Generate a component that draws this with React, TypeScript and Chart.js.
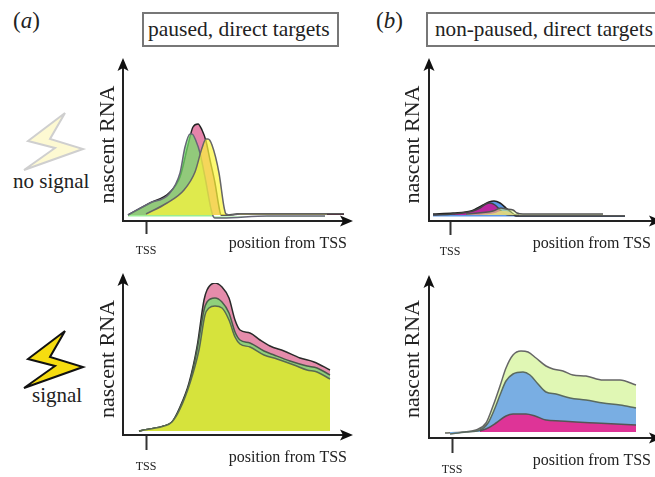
import React, { useEffect, useRef } from "react";
import { Chart, registerables } from "chart.js";

Chart.register(...registerables);

const FONT = '"Liberation Serif", "Times New Roman", serif';

// Panel (a), no signal
const aTopPinkX = [5, 27, 46, 57, 65, 70, 75, 79, 83, 87, 92, 96, 98, 105, 114, 177, 221];
const aTopPinkY = [6, 18, 28, 44, 76, 94, 97, 91, 80, 61, 38, 14, 6, 6, 7, 7, 7];
const aTopGreenX = [5, 27, 46, 57, 62, 67, 69, 73, 77, 82, 89, 92, 99, 144, 202];
const aTopGreenY = [6, 18, 27, 48, 74, 87, 87, 80, 68, 44, 8, 3, 3, 5, 5];
const aTopYellowX = [23, 44, 61, 72, 79, 83, 85, 89, 96, 101, 103, 108, 117, 204];
const aTopYellowY = [7, 18, 31, 49, 73, 82, 82, 76, 48, 14, 7, 6, 7, 7];

// Panel (a), signal
const aBotPinkX = [16, 27, 41, 49, 57, 66, 74, 81, 84, 92, 99, 106, 112, 117, 127, 137, 147, 161, 177, 191, 207];
const aBotPinkY = [4, 6, 9, 13, 28, 52, 88, 135, 145, 152, 148, 137, 115, 105, 102, 95, 89, 84, 77, 73, 65];
const aBotGreenX = [16, 27, 41, 49, 57, 66, 74, 81, 84, 92, 99, 106, 112, 117, 127, 141, 151, 167, 184, 194, 207];
const aBotGreenY = [4, 6, 9, 13, 27, 50, 85, 125, 133, 137, 133, 122, 103, 95, 92, 84, 80, 74, 69, 67, 60];
const aBotYellowX = [16, 27, 41, 49, 57, 67, 76, 82, 86, 92, 99, 106, 112, 117, 127, 141, 154, 171, 184, 194, 207];
const aBotYellowY = [4, 6, 9, 13, 26, 52, 85, 120, 127, 129, 127, 115, 98, 91, 88, 80, 76, 70, 65, 63, 56];

// Panel (b), no signal
const bTopBlueX = [4, 24, 42, 54, 60, 65, 71, 77, 82, 87, 100, 196];
const bTopBlueY = [7, 8, 10, 16, 19, 20, 18, 13, 9, 5, 5, 5];
const bTopMagentaX = [4, 24, 44, 51, 57, 61, 66, 71, 76, 81, 90];
const bTopMagentaY = [6, 7, 10, 13, 17, 18, 16, 11, 7, 6, 6];
const bTopTanX = [50, 66, 72, 77, 82, 86];
const bTopTanY = [6, 8, 10, 10, 8, 6];
const bTopGreenX = [37, 64, 72, 77, 84, 88, 94, 174];
const bTopGreenY = [7, 10, 13, 12, 11, 8, 7, 7];

// Panel (b), signal
const bBotGreenX = [16, 34, 47, 57, 64, 71, 77, 84, 92, 99, 107, 117, 124, 134, 144, 157, 174, 191, 207];
const bBotGreenY = [5, 6, 8, 15, 32, 52, 70, 83, 87, 86, 80, 72, 69, 67, 63, 62, 58, 58, 53];
const bBotBlueX = [21, 37, 51, 59, 66, 71, 77, 84, 94, 101, 109, 117, 127, 141, 157, 174, 191, 207];
const bBotBlueY = [4, 6, 8, 15, 30, 43, 57, 64, 66, 63, 54, 46, 44, 40, 38, 35, 33, 30];
const bBotMagentaX = [51, 59, 67, 77, 84, 97, 106, 117, 131, 147, 167, 187, 207];
const bBotMagentaY = [7, 10, 15, 22, 24, 24, 22, 18, 17, 16, 15, 14, 13];

const xLabel = "position from TSS";
const yLabel = "nascent RNA";
const tickLabel = "TSS";

const zip = (xs: number[], ys: number[]) => xs.map((x, i) => ({ x, y: ys[i] }));

type Layer = { x: number[]; y: number[]; fill: string; line: string; base?: number };
type Panel = {
  left: number;
  top: number;
  width: number;
  height: number;
  yAxisWidth: number;
  plotTop: number;
  axisY: number;
  plotRight: number;
  arrowTop: number;
  arrowRight: number;
  tss: number;
  tickLength: number;
  base: number;
  layers: Layer[];
};

const panels: Panel[] = [
  {
    left: 95, top: 50, width: 265, height: 217, yAxisWidth: 28, plotTop: 68, axisY: 221, plotRight: 347,
    arrowTop: 58, arrowRight: 353, tss: 23, tickLength: 13, base: 6,
    layers: [
      { x: aTopPinkX, y: aTopPinkY, fill: "rgba(228,125,165,0.95)", line: "#222" },
      { x: aTopGreenX, y: aTopGreenY, fill: "rgba(115,228,105,0.72)", line: "#667", base: 4.5 },
      { x: aTopYellowX, y: aTopYellowY, fill: "rgba(252,247,60,0.72)", line: "#666" },
    ],
  },
  {
    left: 95, top: 265, width: 265, height: 220, yAxisWidth: 28, plotTop: 283, axisY: 435, plotRight: 347,
    arrowTop: 273, arrowRight: 353, tss: 23, tickLength: 15, base: 4,
    layers: [
      { x: aBotPinkX, y: aBotPinkY, fill: "#e58cab", line: "#2a2a2a" },
      { x: aBotGreenX, y: aBotGreenY, fill: "#8fd07c", line: "#4a5a4a" },
      { x: aBotYellowX, y: aBotYellowY, fill: "#d6e33c", line: "#5a6a50" },
    ],
  },
  {
    left: 400, top: 50, width: 255, height: 217, yAxisWidth: 29, plotTop: 68, axisY: 221, plotRight: 651,
    arrowTop: 58, arrowRight: 662, tss: 21, tickLength: 14, base: 6,
    layers: [
      { x: bTopBlueX, y: bTopBlueY, fill: "rgba(60,130,225,0.85)", line: "#222", base: 4.5 },
      { x: bTopMagentaX, y: bTopMagentaY, fill: "rgba(200,25,150,0.88)", line: "#444" },
      { x: bTopTanX, y: bTopTanY, fill: "rgba(235,190,130,0.9)", line: "rgba(0,0,0,0)" },
      { x: bTopGreenX, y: bTopGreenY, fill: "rgba(215,240,130,0.55)", line: "#555" },
    ],
  },
  {
    left: 400, top: 265, width: 255, height: 220, yAxisWidth: 29, plotTop: 280, axisY: 438, plotRight: 651,
    arrowTop: 275, arrowRight: 662, tss: 23, tickLength: 15, base: 6,
    layers: [
      { x: bBotGreenX, y: bBotGreenY, fill: "#e0f7b4", line: "#666" },
      { x: bBotBlueX, y: bBotBlueY, fill: "#79aee3", line: "#5a6a60" },
      { x: bBotMagentaX, y: bBotMagentaY, fill: "#de3497", line: "#555" },
    ],
  },
];

const arrowHeads = {
  id: "arrowHeads",
  afterDraw(chart: any, _a: any, opts: any) {
    const { ctx, chartArea } = chart;
    const { arrowX, arrowY } = opts;
    const x0 = chartArea.left;
    const y0 = chartArea.bottom;
    ctx.save();
    ctx.strokeStyle = "#222";
    ctx.fillStyle = "#111";
    ctx.lineWidth = 2;
    ctx.beginPath();
    ctx.moveTo(x0, chartArea.top);
    ctx.lineTo(x0, arrowY + 4);
    ctx.moveTo(chartArea.right, y0);
    ctx.lineTo(arrowX - 4, y0);
    ctx.stroke();
    ctx.beginPath();
    ctx.moveTo(x0, arrowY);
    ctx.lineTo(x0 + 5.5, arrowY + 13);
    ctx.lineTo(x0, arrowY + 10);
    ctx.lineTo(x0 - 5.5, arrowY + 13);
    ctx.closePath();
    ctx.fill();
    ctx.beginPath();
    ctx.moveTo(arrowX, y0);
    ctx.lineTo(arrowX - 13, y0 + 5.5);
    ctx.lineTo(arrowX - 10, y0);
    ctx.lineTo(arrowX - 13, y0 - 5.5);
    ctx.closePath();
    ctx.fill();
    ctx.restore();
  },
};

function PanelChart({ panel }: { panel: Panel }) {
  const ref = useRef<HTMLCanvasElement>(null);
  useEffect(() => {
    const xHeight = 46;
    const plotBottom = panel.axisY - panel.top;
    const plotLeft = panel.yAxisWidth;
    const chart = new Chart(ref.current as HTMLCanvasElement, {
      type: "line",
      data: {
        datasets: panel.layers.map((l, i) => ({
          data: zip(l.x, l.y),
          borderColor: l.line,
          backgroundColor: l.fill,
          borderWidth: 1.5,
          pointRadius: 0,
          cubicInterpolationMode: "monotone" as const,
          fill: { value: l.base ?? panel.base },
          order: panel.layers.length - i,
        })),
      },
      options: {
        animation: false,
        responsive: false,
        events: [],
        layout: {
          padding: {
            left: 0,
            top: panel.plotTop - panel.top,
            right: panel.left + panel.width - panel.plotRight,
            bottom: panel.height - plotBottom - xHeight,
          },
        },
        plugins: {
          legend: { display: false },
          tooltip: { enabled: false },
          arrowHeads: {
            arrowX: panel.arrowRight - panel.left,
            arrowY: panel.arrowTop - panel.top,
          },
        } as any,
        scales: {
          x: {
            type: "linear",
            min: 0,
            max: panel.plotRight - panel.left - plotLeft,
            afterBuildTicks: (s: any) => {
              s.ticks = [{ value: panel.tss }];
            },
            afterFit: (s: any) => {
              s.height = xHeight;
            },
            border: { display: true, color: "#222", width: 2 },
            grid: {
              display: true,
              drawOnChartArea: false,
              drawTicks: true,
              tickLength: panel.tickLength,
              tickColor: "#333",
              tickWidth: 2,
            },
            ticks: {
              autoSkip: false,
              maxRotation: 0,
              padding: 10,
              color: "#222",
              font: { family: FONT, size: 12 },
              callback: () => tickLabel,
            },
            title: {
              display: true,
              text: xLabel,
              align: "end",
              color: "#222",
              padding: { top: 0, bottom: 14 },
              font: { family: FONT, size: 16 },
            },
          },
          y: {
            type: "linear",
            min: 0,
            max: panel.axisY - panel.plotTop,
            afterFit: (s: any) => {
              s.width = panel.yAxisWidth;
            },
            border: { display: true, color: "#222", width: 2 },
            grid: { display: false },
            ticks: { display: false },
            title: {
              display: true,
              text: yLabel,
              color: "#222",
              padding: 0,
              font: { family: FONT, size: 22 },
            },
          },
        },
      } as any,
      plugins: [arrowHeads],
    });
    return () => chart.destroy();
  }, [panel]);
  return (
    <canvas
      ref={ref}
      width={panel.width}
      height={panel.height}
      style={{ position: "absolute", left: panel.left, top: panel.top }}
    />
  );
}

const textStyle: React.CSSProperties = {
  position: "absolute",
  fontFamily: FONT,
  color: "#222",
  whiteSpace: "nowrap",
  lineHeight: 1,
};

const boxStyle: React.CSSProperties = {
  position: "absolute",
  top: 12,
  height: 35,
  boxSizing: "border-box",
  border: "2px solid #777",
  fontFamily: FONT,
  color: "#222",
  whiteSpace: "nowrap",
  display: "flex",
  alignItems: "center",
};

function Bolt({ fill, stroke, dy }: { fill: string; stroke: string; dy: number }) {
  return (
    <svg width={100} height={70} style={{ position: "absolute", left: 0, top: dy }}>
      <polygon
        points="65,3 28,31 55,38 24,60 83,39 50,29"
        fill={fill}
        stroke={stroke}
        strokeWidth={2}
        strokeLinejoin="miter"
      />
    </svg>
  );
}

export default function App() {
  return (
    <div style={{ position: "absolute", left: 0, top: 0, width: 655, height: 477, overflow: "hidden", background: "#fff" }}>
      <div style={{ ...textStyle, left: 13, top: 9, fontSize: 23 }}>
        (<i>a</i>)
      </div>
      <div style={{ ...textStyle, left: 376, top: 9, fontSize: 23 }}>
        (<i>b</i>)
      </div>
      <div style={{ ...boxStyle, left: 142, width: 197, paddingLeft: 4, fontSize: 21.5 }}>paused, direct targets</div>
      <div style={{ ...boxStyle, left: 426, width: 240, paddingLeft: 7, fontSize: 21.2 }}>non-paused, direct targets</div>
      <Bolt fill="#fdf9d2" stroke="#cfcfcf" dy={110} />
      <div style={{ ...textStyle, left: 13, top: 171, fontSize: 21 }}>no signal</div>
      <Bolt fill="#f6dc10" stroke="#111" dy={328} />
      <div style={{ ...textStyle, left: 32, top: 385, fontSize: 21 }}>signal</div>
      {panels.map((p, i) => (
        <PanelChart key={i} panel={p} />
      ))}
    </div>
  );
}
